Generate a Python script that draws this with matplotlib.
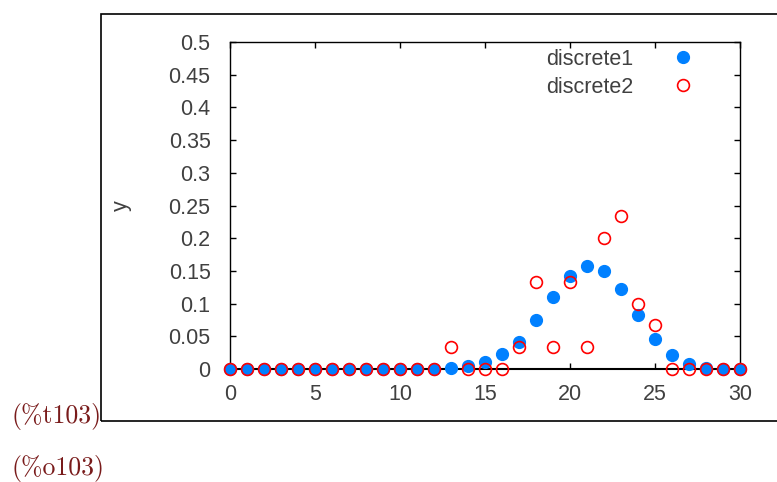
import matplotlib.pyplot as plt
from matplotlib.patches import Rectangle

# data
x_vals = list(range(31))
discrete1 = [0, 0, 0, 0, 0, 0, 0, 0, 0, 0, 0, 0.0001, 0.0004, 0.0014, 0.0042,
             0.0106, 0.0231, 0.0415, 0.0749, 0.1103, 0.1416, 0.1573, 0.1501,
             0.1218, 0.0829, 0.0464, 0.0208, 0.0072, 0.0018, 0.0003, 0.0]
discrete2 = [0, 0, 0, 0, 0, 0, 0, 0, 0, 0, 0, 0, 0, 0.0333, 0, 0, 0, 0.0333,
             0.1333, 0.0333, 0.1333, 0.0333, 0.2, 0.2333, 0.1, 0.0667, 0, 0, 0, 0, 0]
yticks = [0, 0.05, 0.1, 0.15, 0.2, 0.25, 0.3, 0.35, 0.4, 0.45, 0.5]
ytick_labels = ["0", "0.05", "0.1", "0.15", "0.2", "0.25", "0.3", "0.35", "0.4", "0.45", "0.5"]
xticks = [0, 5, 10, 15, 20, 25, 30]

W, H = 777, 482
fig = plt.figure(figsize=(W / 100, H / 100), dpi=100)
plt.rcParams['font.family'] = ['Liberation Sans', 'DejaVu Sans']
fs = 15.5
gray = "#404040"

# outer frame of the output cell
fig.add_artist(Rectangle((101 / W, 1 - 421 / H), (W - 101) / W + 0.01, (421 - 14) / H,
                         transform=fig.transFigure, fill=False, edgecolor="black",
                         linewidth=1.2))

ax = fig.add_axes([230 / W, 1 - 369 / H, (740 - 230) / W, (369 - 42) / H])
ax.plot(x_vals, discrete1, linestyle="none", marker="o", markersize=8.5,
        color="#0080ff", markeredgecolor="#0080ff", label="discrete1", clip_on=False, zorder=3)
ax.plot(x_vals, discrete2, linestyle="none", marker="o", markersize=8.5,
        markerfacecolor="none", markeredgecolor="#ff0000", markeredgewidth=1.2,
        label="discrete2", clip_on=False, zorder=4)

ax.set_xlim(0, 30)
ax.set_ylim(0, 0.5)
ax.set_xticks(xticks)
ax.set_yticks(yticks)
ax.set_yticklabels(ytick_labels)
ax.tick_params(direction="in", length=4, width=1, top=True, right=True,
               labelsize=fs, labelcolor=gray)
ax.tick_params(axis="y", pad=14)
ax.tick_params(axis="x", pad=11)
for s in ax.spines.values():
    s.set_linewidth(1)
ax.spines["bottom"].set_linewidth(1.5)
ax.set_ylabel("y", fontsize=fs, color=gray, labelpad=26)

leg = ax.legend(loc="upper right", frameon=False, fontsize=fs, markerfirst=False,
                handletextpad=1.28, borderaxespad=0, labelspacing=0.33,
                bbox_to_anchor=(0.947, 1.006))
for t in leg.get_texts():
    t.set_color(gray)

fig.text(12 / W, 1 - 417 / H, "(%t103)", family=["cmr10", "DejaVu Serif"], fontsize=18.5,
         color="#791b1b", va="center")
fig.text(12 / W, 1 - 468 / H, "(%o103)", family=["cmr10", "DejaVu Serif"], fontsize=18.5,
         color="#791b1b", va="center")

fig.savefig("out.png", dpi=100)
